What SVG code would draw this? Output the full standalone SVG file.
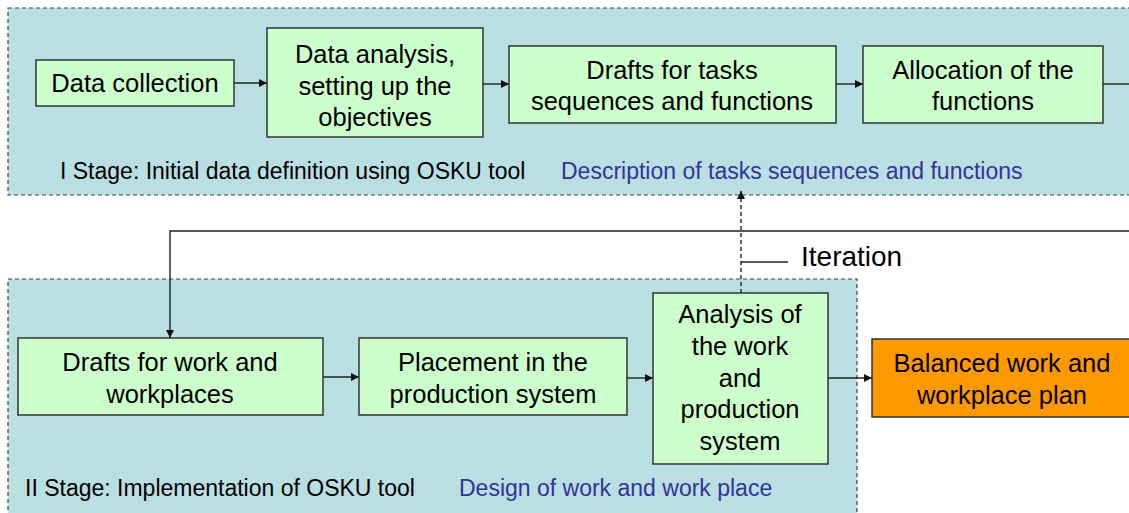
<svg xmlns="http://www.w3.org/2000/svg" width="1129" height="513" viewBox="0 0 1129 513">
<defs>
<style>
.panel{fill:#b9dfe2;stroke:#404040;stroke-width:1.2;stroke-dasharray:4 3}
.box{fill:#ccffcc;stroke:#333;stroke-width:1.5}
.out{fill:#ff9900;stroke:#333;stroke-width:1.5}
.t{font-family:"Liberation Sans",Arial,sans-serif;font-size:25.5px;fill:#000;text-anchor:middle}
.lab{font-family:"Liberation Sans",Arial,sans-serif;font-size:23px;fill:#000}
.blue{fill:#333399}
.c{fill:none;stroke:#222;stroke-width:1.4}
.d{fill:none;stroke:#222;stroke-width:1.4;stroke-dasharray:4 3}
</style>
<marker id="ah" viewBox="0 0 10 10" refX="10" refY="5" markerWidth="8" markerHeight="8" markerUnits="userSpaceOnUse" orient="auto">
<path d="M0,0 L10,5 L0,10 z" fill="#111"/>
</marker>
</defs>
<rect width="1129" height="513" fill="#ffffff"/>
<g id="stage1">
<rect class="panel" x="8" y="8" width="1140" height="187"/>
<text class="lab" x="60" y="179">I Stage: Initial data definition using OSKU tool</text>
<text class="lab blue" x="561" y="179">Description of tasks sequences and functions</text>
</g>
<g id="stage2">
<rect class="panel" x="8" y="279" width="849" height="250"/>
<text class="lab" x="25" y="496">II Stage: Implementation of OSKU tool</text>
<text class="lab blue" x="459" y="496">Design of work and work place</text>
</g>
<g id="connectors">
<line class="c" x1="234" y1="83" x2="267" y2="83" marker-end="url(#ah)"/>
<line class="c" x1="483" y1="84" x2="509" y2="84" marker-end="url(#ah)"/>
<line class="c" x1="836" y1="84" x2="863" y2="84" marker-end="url(#ah)"/>
<line class="c" x1="1103" y1="84" x2="1129" y2="84"/>
<polyline class="c" points="1129,231 170,231 170,338" marker-end="url(#ah)"/>
<line class="d" x1="741" y1="293" x2="741" y2="191" marker-end="url(#ah)"/>
<line class="c" x1="741" y1="262" x2="788" y2="262" stroke-width="1.2"/>
<line class="c" x1="323" y1="377" x2="359" y2="377" marker-end="url(#ah)"/>
<line class="c" x1="627" y1="378" x2="653" y2="378" marker-end="url(#ah)"/>
<line class="c" x1="828" y1="378" x2="872" y2="378" marker-end="url(#ah)"/>
</g>
<g id="iteration">
<text class="lab" x="801" y="266" style="font-size:28px">Iteration</text>
</g>
<g id="data-collection">
<rect class="box" x="36" y="60" width="198" height="46"/>
<text class="t" x="135" y="92">Data collection</text>
</g>
<g id="data-analysis">
<rect class="box" x="267" y="28" width="216" height="109"/>
<text class="t" x="375" y="63">Data analysis,</text>
<text class="t" x="375" y="95">setting up the</text>
<text class="t" x="375" y="126">objectives</text>
</g>
<g id="drafts-tasks">
<rect class="box" x="509" y="46" width="327" height="77"/>
<text class="t" x="672" y="79">Drafts for tasks</text>
<text class="t" x="672" y="110">sequences and functions</text>
</g>
<g id="allocation">
<rect class="box" x="863" y="46" width="240" height="77"/>
<text class="t" x="983" y="79">Allocation of the</text>
<text class="t" x="983" y="110">functions</text>
</g>
<g id="drafts-work">
<rect class="box" x="18" y="338" width="305" height="77"/>
<text class="t" x="170" y="371">Drafts for work and</text>
<text class="t" x="170" y="403">workplaces</text>
</g>
<g id="placement">
<rect class="box" x="359" y="338" width="268" height="77"/>
<text class="t" x="493" y="371">Placement in the</text>
<text class="t" x="493" y="403">production system</text>
</g>
<g id="analysis">
<rect class="box" x="653" y="293" width="175" height="171"/>
<text class="t" x="740" y="323">Analysis of</text>
<text class="t" x="740" y="355">the work</text>
<text class="t" x="740" y="387">and</text>
<text class="t" x="740" y="418">production</text>
<text class="t" x="740" y="450">system</text>
</g>
<g id="balanced">
<rect class="out" x="872" y="339" width="270" height="78"/>
<text class="t" x="1002" y="372">Balanced work and</text>
<text class="t" x="1002" y="404">workplace plan</text>
</g>
</svg>
